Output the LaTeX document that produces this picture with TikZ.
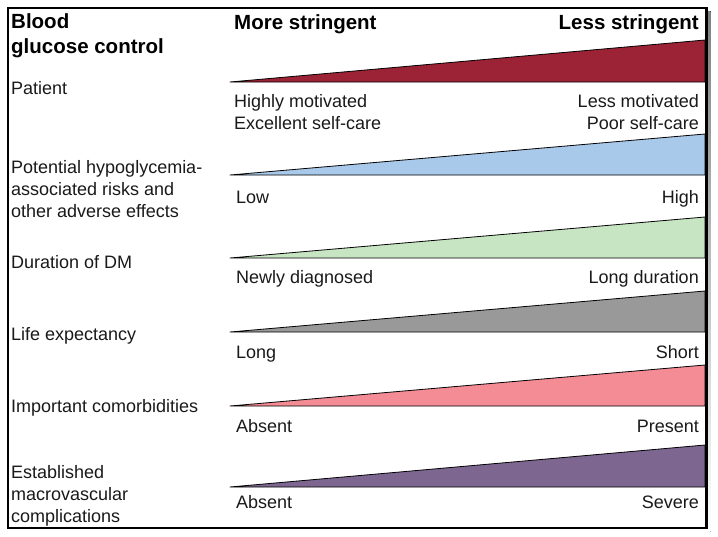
\documentclass[tikz,border=0pt]{standalone}
\usepackage{fontspec}
\setmainfont{Liberation Sans}
\usepackage{xcolor}
\usepackage{tikz}
\definecolor{frame}{HTML}{000000}
\definecolor{shade}{HTML}{8A8A8A}
\definecolor{txt}{HTML}{1A1A1A}
\definecolor{patientred}{HTML}{9B2335}
\definecolor{hypoblue}{HTML}{A9C9EA}
\definecolor{durgreen}{HTML}{C7E5C3}
\definecolor{lifegray}{HTML}{999999}
\definecolor{comorbpink}{HTML}{F38C95}
\definecolor{macropurple}{HTML}{7D6791}
\tikzset{
  box/.style={draw=frame, line width=2.5pt},
  wedge/.style={draw=frame, line width=0.8pt, line join=round},
  lab/.style={text=txt, font=\fontsize{18}{22}\selectfont, inner sep=0pt, anchor=base west, align=left},
  labr/.style={lab, anchor=base east, align=right},
  head/.style={text=black, font=\bfseries\fontsize{20.5}{24.5}\selectfont, inner sep=0pt, anchor=base west, align=left},
}

\begin{document}
\begin{tikzpicture}[x=1pt, y=-1pt]
  \useasboundingbox (0,0) rectangle (718,536);
  \def\xa{230}
  \def\xb{705}
  % frame with shadow
  \fill[shade] (11,11) rectangle (710.5,531.5);
  \fill[white] (8,8) rectangle (706.5,528);
  % wedges
  \filldraw[wedge, fill=patientred]  (\xa,82)  -- (\xb,40)  -- (\xb,82)  -- cycle;
  \filldraw[wedge, fill=hypoblue]    (\xa,175) -- (\xb,134) -- (\xb,175) -- cycle;
  \filldraw[wedge, fill=durgreen]    (\xa,258) -- (\xb,217) -- (\xb,258) -- cycle;
  \filldraw[wedge, fill=lifegray]    (\xa,332) -- (\xb,291) -- (\xb,332) -- cycle;
  \filldraw[wedge, fill=comorbpink]  (\xa,406) -- (\xb,365) -- (\xb,406) -- cycle;
  \filldraw[wedge, fill=macropurple] (\xa,487) -- (\xb,445) -- (\xb,487) -- cycle;
  \draw[box] (8,8) rectangle (706.5,528);
  % headings (multi-line nodes sit on their last baseline)
  \node[head] (title) at (11,53) {Blood\\glucose control};
  \node[head] (more) at (234,29) {More stringent};
  \node[head, anchor=base east] (less) at (699,29) {Less stringent};
  % left column
  \node[lab] (patient) at (11,94) {Patient};
  \node[lab] (hypo) at (11,217) {Potential hypoglycemia-\\associated risks and\\other adverse effects};
  \node[lab] (duration) at (11,268) {Duration of DM};
  \node[lab] (life) at (11,340) {Life expectancy};
  \node[lab] (comorb) at (11,412) {Important comorbidities};
  \node[lab] (macro) at (11,522) {Established\\macrovascular\\complications};
  % wedge ends
  \node[lab] (motivL) at (234,129) {Highly motivated\\Excellent self-care};
  \node[labr] (motivR) at (699,129) {Less motivated\\Poor self-care};
  \node[lab] (low) at (236,203) {Low};
  \node[labr] (high) at (699,203) {High};
  \node[lab] (newly) at (236,283) {Newly diagnosed};
  \node[labr] (longdur) at (699,283) {Long duration};
  \node[lab] (longlife) at (236,358) {Long};
  \node[labr] (short) at (699,358) {Short};
  \node[lab] (absentA) at (236,432) {Absent};
  \node[labr] (present) at (699,432) {Present};
  \node[lab] (absentB) at (236,508) {Absent};
  \node[labr] (severe) at (699,508) {Severe};
\end{tikzpicture}
\end{document}
